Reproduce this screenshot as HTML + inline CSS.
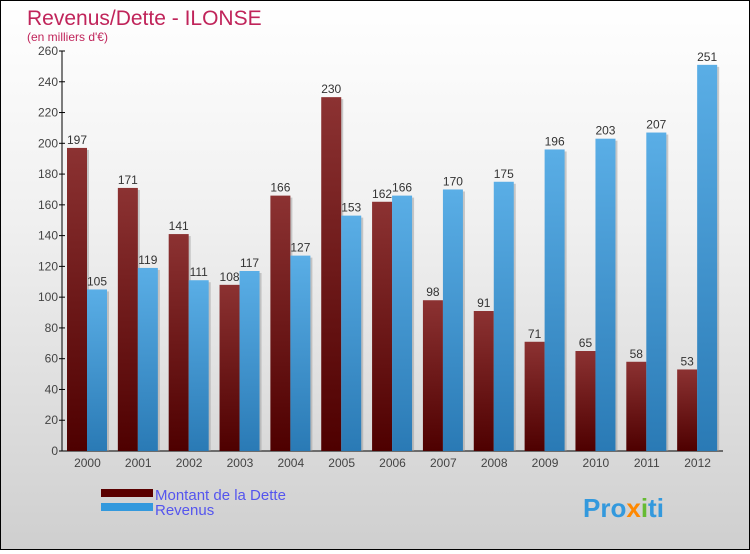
<!DOCTYPE html>
<html><head><meta charset="utf-8"><style>
body{margin:0;width:750px;height:550px;overflow:hidden}
#c{position:relative;width:748px;height:548px;border:1px solid #000;background:linear-gradient(#ffffff,#f0f0f0 40%,#cfcfcf);font-family:"Liberation Sans",sans-serif}
</style></head><body>
<div id="c">
<svg width="748" height="548">
<defs>
<linearGradient id="gd" x1="0" y1="0" x2="0" y2="1"><stop offset="0" stop-color="#8c3232"/><stop offset="1" stop-color="#4e0000"/></linearGradient>
<linearGradient id="gr" x1="0" y1="0" x2="0" y2="1"><stop offset="0" stop-color="#5aaee6"/><stop offset="1" stop-color="#2a7ab5"/></linearGradient>
</defs>
<text x="26" y="24" font-size="21" fill="#c0245a">Revenus/Dette - ILONSE</text>
<text x="26" y="40" font-size="12" fill="#c0245a">(en milliers d'€)</text>
<g id="axes"></g><g id="bars"></g>
<rect x="100" y="488" width="52" height="8" fill="#5a0000"/>
<rect x="100" y="502" width="52" height="8" fill="#3399dd"/>
<text x="154" y="499" font-size="15" fill="#5555ee">Montant de la Dette</text>
<text x="154" y="514" font-size="15" fill="#5555ee">Revenus</text>
<text x="582" y="516" font-size="26" font-weight="bold" fill="#3399dd">Pro<tspan fill="#ff8800">x</tspan><tspan fill="#66bb33">i</tspan>ti</text>
</svg></div>
<script>
const years=["2000","2001","2002","2003","2004","2005","2006","2007","2008","2009","2010","2011","2012"];
const dette=[197,171,141,108,166,230,162,98,91,71,65,58,53];
const revenus=[105,119,111,117,127,153,166,170,175,196,203,207,251];
const ticks=[0,20,40,60,80,100,120,140,160,180,200,220,240,260];
const NS="http://www.w3.org/2000/svg";
const x0=61,x1=722,yb=450,yt=50,vmax=260,gw=(x1-x0)/years.length;
const y=v=>yb-(v/vmax)*(yb-yt);
function mk(t,a,p){const e=document.createElementNS(NS,t);for(const k in a)e.setAttribute(k,a[k]);p.appendChild(e);return e;}
const ax=document.getElementById('axes'),bg=document.getElementById('bars');
ticks.forEach(t=>{
 const l=mk('line',{x1:x0-3,x2:x0+3,y1:y(t),y2:y(t),stroke:'#000'},ax);
 
 
 const tx=mk('text',{x:x0-4,y:y(t)+4,'font-size':12,'text-anchor':'end',fill:'#444'},ax);
 tx.textContent=t;
 
 
});
const ya=mk('line',{x1:x0,x2:x0,y1:yt,y2:yb,stroke:'#000'},ax);


const xa=mk('line',{x1:x0,x2:x1,y1:yb,y2:yb,stroke:'#000'},ax);


years.forEach((yr,i)=>{
 const gx=x0+i*gw;
 [[dette[i],'url(#gd)','bar-dette',5],[revenus[i],'url(#gr)','bar-revenus',25]].forEach(([v,f,n,o])=>{
  const sh=mk('rect',{x:gx+o+2,y:y(v)+2,width:20,height:yb-y(v)-2,fill:'#999','fill-opacity':0.5},bg);
  
  
  const r=mk('rect',{x:gx+o,y:y(v),width:20,height:yb-y(v),fill:f},bg);
  
  
  const t=mk('text',{x:gx+o+10,y:y(v)-4,'font-size':12,'text-anchor':'middle',fill:'#333'},bg);
  t.textContent=v;
  
  
 });
 const tl=mk('text',{x:gx+gw/2,y:yb+16,'font-size':12,'text-anchor':'middle',fill:'#444'},ax);
 tl.textContent=yr;
 
 
});
</script>
</body></html>
